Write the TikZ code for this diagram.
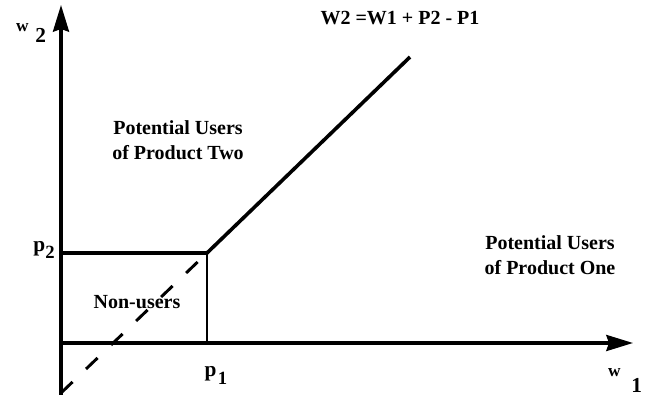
\documentclass[tikz,border=0pt]{standalone}
\usepackage{fontspec}
\setmainfont{Liberation Serif}
\usetikzlibrary{arrows.meta}

\begin{document}
\begin{tikzpicture}[x=0.75pt, y=-0.75pt, >={Stealth[length=20pt,width=12pt,inset=2pt]},
		axis/.style={->, line width=2.4pt},
		bound/.style={line width=2.7pt},
		regiontext/.style={font=\fontsize{15}{19}\selectfont\bfseries, align=center, inner sep=0pt},
		axlabel/.style={font=\fontsize{16}{19}\selectfont\bfseries, inner sep=0pt}]
		\useasboundingbox (0,0) rectangle (669,399);

		% corners of the plot
		\coordinate (O)		at (61,343);
		\coordinate (ybot)	at (61,395);
		\coordinate (ytop)	at (61,5);
		\coordinate (xend)	at (633,343);
		\coordinate (P2)	at (61,253);
		\coordinate (C)		at (207,253);
		\coordinate (P1)	at (207,343);
		\coordinate (D)		at (410,57);
		\coordinate (dstart)	at (61,393);

		% axes
		\draw[axis] (ybot) -- (ytop);
		\draw[axis] (O) -- (xend);

		% boundaries
		\draw[bound] (P2) -- (C) -- (D);
		\draw[line width=2.2pt] (C) -- (P1);
		\draw[line width=2.2pt, dash pattern=on 12pt off 14pt] (dstart) -- (C);

		% regions
		\node[regiontext] (two)	at (178,140)	{Potential Users\\of Product Two};
		\node[regiontext] (one)	at (550,255)	{Potential Users\\of Product One};
		\node[regiontext] (non)	at (137,302)	{Non-users};
		\node[regiontext] (law)	at (400,18)		{W2 =W1 + P2 - P1};

		% axis labels
		\node[axlabel] (w2)	at (31,33)	{{\fontsize{13}{13}\selectfont\raisebox{8pt}{w}}\kern5pt 2};
		\node[axlabel] (w1)	at (625,381)	{{\fontsize{13}{13}\selectfont\raisebox{6pt}{w}}\kern8pt\raisebox{-6pt}{1}};
		\node[axlabel] (p2)	at (44,250)	{p{\fontsize{14}{14}\selectfont\raisebox{-5pt}{2}}};
		\node[axlabel] (p1)	at (216,375)	{p\kern1pt{\fontsize{14}{14}\selectfont\raisebox{-6pt}{1}}};
\end{tikzpicture}
\end{document}
